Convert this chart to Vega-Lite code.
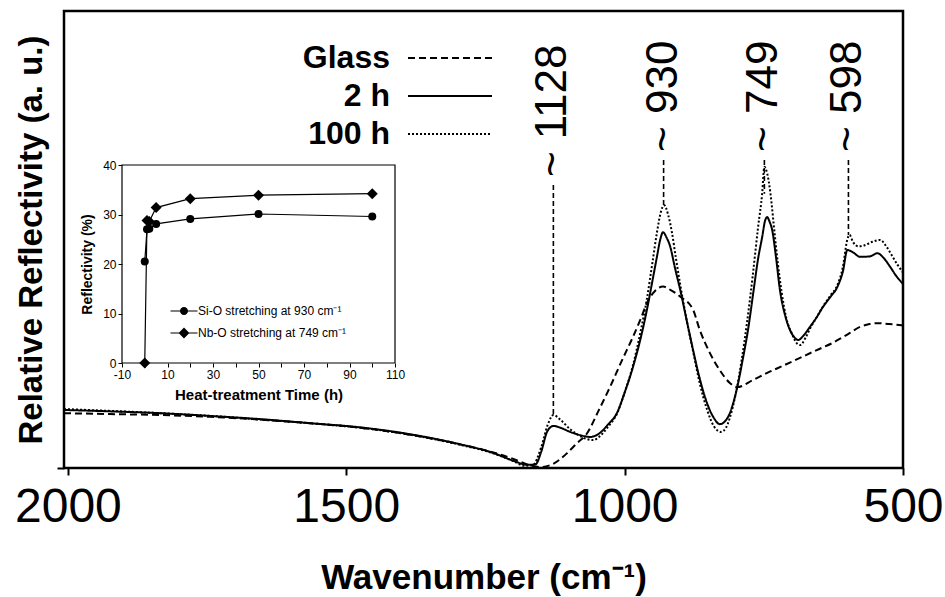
{
  "$schema": "https://vega.github.io/schema/vega-lite/v6.json",
  "autosize": {"type": "none"},
  "padding": {"left": 64, "top": 11, "right": 42, "bottom": 129},
  "width": 839,
  "height": 457,
  "background": "white",
  "config": {
    "font": "Liberation Sans",
    "view": {"stroke": "black", "strokeWidth": 2.5},
    "axis": {"labelColor": "black", "titleColor": "black", "grid": false, "domain": false}
  },
  "datasets": {
    "spectra": [
      {"s": "Glass", "wn": 2007, "v": 12.0}, {"s": "Glass", "wn": 1925, "v": 11.8}, {"s": "Glass", "wn": 1835, "v": 11.6},
      {"s": "Glass", "wn": 1745, "v": 11.2}, {"s": "Glass", "wn": 1655, "v": 10.6}, {"s": "Glass", "wn": 1565, "v": 9.8},
      {"s": "Glass", "wn": 1475, "v": 8.8}, {"s": "Glass", "wn": 1386, "v": 7.3}, {"s": "Glass", "wn": 1296, "v": 5.2},
      {"s": "Glass", "wn": 1236, "v": 3.4}, {"s": "Glass", "wn": 1200, "v": 2.0}, {"s": "Glass", "wn": 1175, "v": 0.8},
      {"s": "Glass", "wn": 1152, "v": 0.2}, {"s": "Glass", "wn": 1130, "v": 0.8}, {"s": "Glass", "wn": 1115, "v": 2.0},
      {"s": "Glass", "wn": 1103, "v": 3.3}, {"s": "Glass", "wn": 1085, "v": 5.5}, {"s": "Glass", "wn": 1068, "v": 7.5},
      {"s": "Glass", "wn": 1047, "v": 12.5}, {"s": "Glass", "wn": 1026, "v": 17.8}, {"s": "Glass", "wn": 1005, "v": 23.5},
      {"s": "Glass", "wn": 985, "v": 28.7}, {"s": "Glass", "wn": 970, "v": 33.0}, {"s": "Glass", "wn": 960, "v": 36.1},
      {"s": "Glass", "wn": 945, "v": 38.8}, {"s": "Glass", "wn": 931, "v": 39.7}, {"s": "Glass", "wn": 918, "v": 39.0},
      {"s": "Glass", "wn": 900, "v": 37.5}, {"s": "Glass", "wn": 877, "v": 34.6}, {"s": "Glass", "wn": 865, "v": 30.2},
      {"s": "Glass", "wn": 847, "v": 25.2}, {"s": "Glass", "wn": 829, "v": 21.4}, {"s": "Glass", "wn": 811, "v": 18.6},
      {"s": "Glass", "wn": 798, "v": 17.7}, {"s": "Glass", "wn": 770, "v": 19.2}, {"s": "Glass", "wn": 744, "v": 20.8},
      {"s": "Glass", "wn": 715, "v": 22.4}, {"s": "Glass", "wn": 685, "v": 24.1}, {"s": "Glass", "wn": 655, "v": 25.8},
      {"s": "Glass", "wn": 626, "v": 27.4}, {"s": "Glass", "wn": 600, "v": 29.2}, {"s": "Glass", "wn": 577, "v": 30.9},
      {"s": "Glass", "wn": 560, "v": 31.5}, {"s": "Glass", "wn": 546, "v": 31.7}, {"s": "Glass", "wn": 525, "v": 31.5},
      {"s": "Glass", "wn": 500, "v": 31.2},

      {"s": "2 h", "wn": 2007, "v": 12.7}, {"s": "2 h", "wn": 1925, "v": 12.4}, {"s": "2 h", "wn": 1835, "v": 12.0},
      {"s": "2 h", "wn": 1745, "v": 11.4}, {"s": "2 h", "wn": 1655, "v": 10.7}, {"s": "2 h", "wn": 1565, "v": 9.8},
      {"s": "2 h", "wn": 1475, "v": 8.9}, {"s": "2 h", "wn": 1386, "v": 7.4}, {"s": "2 h", "wn": 1296, "v": 5.2},
      {"s": "2 h", "wn": 1236, "v": 3.3}, {"s": "2 h", "wn": 1200, "v": 1.6}, {"s": "2 h", "wn": 1175, "v": 0.7},
      {"s": "2 h", "wn": 1160, "v": 0.8}, {"s": "2 h", "wn": 1150, "v": 3.5}, {"s": "2 h", "wn": 1139, "v": 8.0},
      {"s": "2 h", "wn": 1128, "v": 9.2}, {"s": "2 h", "wn": 1115, "v": 8.8}, {"s": "2 h", "wn": 1098, "v": 7.9},
      {"s": "2 h", "wn": 1080, "v": 7.2}, {"s": "2 h", "wn": 1062, "v": 6.8}, {"s": "2 h", "wn": 1044, "v": 7.7},
      {"s": "2 h", "wn": 1030, "v": 9.5}, {"s": "2 h", "wn": 1014, "v": 12.0}, {"s": "2 h", "wn": 1000, "v": 16.5},
      {"s": "2 h", "wn": 985, "v": 22.1}, {"s": "2 h", "wn": 972, "v": 28.0}, {"s": "2 h", "wn": 960, "v": 34.6},
      {"s": "2 h", "wn": 950, "v": 41.0}, {"s": "2 h", "wn": 942, "v": 46.2}, {"s": "2 h", "wn": 936, "v": 50.0},
      {"s": "2 h", "wn": 931, "v": 51.6}, {"s": "2 h", "wn": 925, "v": 50.5}, {"s": "2 h", "wn": 918, "v": 48.4},
      {"s": "2 h", "wn": 910, "v": 44.0}, {"s": "2 h", "wn": 900, "v": 38.9}, {"s": "2 h", "wn": 888, "v": 32.0},
      {"s": "2 h", "wn": 877, "v": 25.8}, {"s": "2 h", "wn": 865, "v": 19.5}, {"s": "2 h", "wn": 852, "v": 14.2},
      {"s": "2 h", "wn": 840, "v": 11.0}, {"s": "2 h", "wn": 829, "v": 9.6}, {"s": "2 h", "wn": 820, "v": 10.2},
      {"s": "2 h", "wn": 811, "v": 12.0}, {"s": "2 h", "wn": 800, "v": 16.5}, {"s": "2 h", "wn": 787, "v": 24.3},
      {"s": "2 h", "wn": 778, "v": 30.5}, {"s": "2 h", "wn": 769, "v": 38.3}, {"s": "2 h", "wn": 760, "v": 46.0},
      {"s": "2 h", "wn": 753, "v": 50.5}, {"s": "2 h", "wn": 748, "v": 54.0}, {"s": "2 h", "wn": 744, "v": 54.9},
      {"s": "2 h", "wn": 740, "v": 54.0}, {"s": "2 h", "wn": 735, "v": 52.1}, {"s": "2 h", "wn": 728, "v": 46.0},
      {"s": "2 h", "wn": 721, "v": 38.9}, {"s": "2 h", "wn": 712, "v": 33.5}, {"s": "2 h", "wn": 703, "v": 30.2},
      {"s": "2 h", "wn": 695, "v": 28.6}, {"s": "2 h", "wn": 688, "v": 28.0}, {"s": "2 h", "wn": 680, "v": 28.8},
      {"s": "2 h", "wn": 667, "v": 30.9}, {"s": "2 h", "wn": 655, "v": 33.0}, {"s": "2 h", "wn": 644, "v": 35.2},
      {"s": "2 h", "wn": 630, "v": 37.5}, {"s": "2 h", "wn": 618, "v": 39.6}, {"s": "2 h", "wn": 608, "v": 43.0},
      {"s": "2 h", "wn": 600, "v": 47.7}, {"s": "2 h", "wn": 590, "v": 47.2}, {"s": "2 h", "wn": 577, "v": 46.2},
      {"s": "2 h", "wn": 560, "v": 46.3}, {"s": "2 h", "wn": 546, "v": 47.0}, {"s": "2 h", "wn": 535, "v": 46.0},
      {"s": "2 h", "wn": 523, "v": 44.0}, {"s": "2 h", "wn": 512, "v": 42.0}, {"s": "2 h", "wn": 500, "v": 40.3},

      {"s": "100 h", "wn": 2007, "v": 12.9}, {"s": "100 h", "wn": 1925, "v": 12.5}, {"s": "100 h", "wn": 1835, "v": 12.0},
      {"s": "100 h", "wn": 1745, "v": 11.4}, {"s": "100 h", "wn": 1655, "v": 10.6}, {"s": "100 h", "wn": 1565, "v": 9.8},
      {"s": "100 h", "wn": 1475, "v": 8.8}, {"s": "100 h", "wn": 1386, "v": 7.3}, {"s": "100 h", "wn": 1296, "v": 5.1},
      {"s": "100 h", "wn": 1236, "v": 3.2}, {"s": "100 h", "wn": 1200, "v": 1.5}, {"s": "100 h", "wn": 1180, "v": 0.5},
      {"s": "100 h", "wn": 1165, "v": 0.6}, {"s": "100 h", "wn": 1150, "v": 4.5}, {"s": "100 h", "wn": 1138, "v": 9.5},
      {"s": "100 h", "wn": 1128, "v": 11.6}, {"s": "100 h", "wn": 1115, "v": 10.5}, {"s": "100 h", "wn": 1098, "v": 8.5},
      {"s": "100 h", "wn": 1080, "v": 7.0}, {"s": "100 h", "wn": 1057, "v": 6.1}, {"s": "100 h", "wn": 1044, "v": 7.0},
      {"s": "100 h", "wn": 1030, "v": 9.0}, {"s": "100 h", "wn": 1014, "v": 11.8}, {"s": "100 h", "wn": 1000, "v": 16.5},
      {"s": "100 h", "wn": 985, "v": 22.5}, {"s": "100 h", "wn": 972, "v": 29.5}, {"s": "100 h", "wn": 960, "v": 37.0},
      {"s": "100 h", "wn": 950, "v": 45.0}, {"s": "100 h", "wn": 942, "v": 51.5}, {"s": "100 h", "wn": 935, "v": 56.0},
      {"s": "100 h", "wn": 929, "v": 57.5}, {"s": "100 h", "wn": 922, "v": 55.5}, {"s": "100 h", "wn": 915, "v": 51.5},
      {"s": "100 h", "wn": 908, "v": 46.0}, {"s": "100 h", "wn": 900, "v": 40.0}, {"s": "100 h", "wn": 888, "v": 32.0},
      {"s": "100 h", "wn": 877, "v": 25.5}, {"s": "100 h", "wn": 865, "v": 18.5}, {"s": "100 h", "wn": 852, "v": 12.8},
      {"s": "100 h", "wn": 840, "v": 9.2}, {"s": "100 h", "wn": 827, "v": 7.9}, {"s": "100 h", "wn": 818, "v": 8.8},
      {"s": "100 h", "wn": 811, "v": 11.0}, {"s": "100 h", "wn": 800, "v": 16.5}, {"s": "100 h", "wn": 790, "v": 23.5},
      {"s": "100 h", "wn": 780, "v": 32.0}, {"s": "100 h", "wn": 770, "v": 42.0}, {"s": "100 h", "wn": 760, "v": 53.0},
      {"s": "100 h", "wn": 753, "v": 60.0}, {"s": "100 h", "wn": 749, "v": 65.9}, {"s": "100 h", "wn": 744, "v": 64.5},
      {"s": "100 h", "wn": 738, "v": 60.0}, {"s": "100 h", "wn": 732, "v": 53.0}, {"s": "100 h", "wn": 725, "v": 45.0},
      {"s": "100 h", "wn": 718, "v": 38.5}, {"s": "100 h", "wn": 710, "v": 33.0}, {"s": "100 h", "wn": 700, "v": 29.5},
      {"s": "100 h", "wn": 690, "v": 27.2}, {"s": "100 h", "wn": 685, "v": 26.9}, {"s": "100 h", "wn": 675, "v": 28.5},
      {"s": "100 h", "wn": 667, "v": 30.5}, {"s": "100 h", "wn": 655, "v": 33.0}, {"s": "100 h", "wn": 644, "v": 35.3},
      {"s": "100 h", "wn": 630, "v": 37.8}, {"s": "100 h", "wn": 618, "v": 40.0}, {"s": "100 h", "wn": 608, "v": 44.0},
      {"s": "100 h", "wn": 600, "v": 50.0}, {"s": "100 h", "wn": 596, "v": 51.0}, {"s": "100 h", "wn": 590, "v": 49.5},
      {"s": "100 h", "wn": 580, "v": 48.5}, {"s": "100 h", "wn": 570, "v": 48.7}, {"s": "100 h", "wn": 555, "v": 49.5},
      {"s": "100 h", "wn": 541, "v": 49.9}, {"s": "100 h", "wn": 530, "v": 48.5}, {"s": "100 h", "wn": 520, "v": 46.5},
      {"s": "100 h", "wn": 510, "v": 44.5}, {"s": "100 h", "wn": 500, "v": 42.8}
    ],
    "peaks": [
      {"wn": 1128, "top": 61.9, "bottom": 11.6, "label": "~ 1128"},
      {"wn": 930, "top": 67.4, "bottom": 57.5, "label": "~ 930"},
      {"wn": 749, "top": 67.4, "bottom": 60.0, "label": "~ 749"},
      {"wn": 598, "top": 67.4, "bottom": 51.0, "label": "~ 598"}
    ],
    "inset": [
      {"s": "Si-O stretching at 930 cm⁻¹", "t": 0, "r": 20.5},
      {"s": "Si-O stretching at 930 cm⁻¹", "t": 1, "r": 27.0},
      {"s": "Si-O stretching at 930 cm⁻¹", "t": 2, "r": 27.1},
      {"s": "Si-O stretching at 930 cm⁻¹", "t": 5, "r": 28.1},
      {"s": "Si-O stretching at 930 cm⁻¹", "t": 20, "r": 29.1},
      {"s": "Si-O stretching at 930 cm⁻¹", "t": 50, "r": 30.1},
      {"s": "Si-O stretching at 930 cm⁻¹", "t": 100, "r": 29.6},
      {"s": "Nb-O stretching at 749 cm⁻¹", "t": 0, "r": 0.0},
      {"s": "Nb-O stretching at 749 cm⁻¹", "t": 1, "r": 28.8},
      {"s": "Nb-O stretching at 749 cm⁻¹", "t": 2, "r": 28.6},
      {"s": "Nb-O stretching at 749 cm⁻¹", "t": 5, "r": 31.4},
      {"s": "Nb-O stretching at 749 cm⁻¹", "t": 20, "r": 33.2},
      {"s": "Nb-O stretching at 749 cm⁻¹", "t": 50, "r": 33.9},
      {"s": "Nb-O stretching at 749 cm⁻¹", "t": 100, "r": 34.2}
    ]
  },
  "layer": [
    {
      "layer": [
        {
          "data": {"name": "spectra"},
          "mark": {"type": "line", "color": "black", "strokeWidth": 2, "interpolate": "monotone"},
          "encoding": {
            "x": {
              "field": "wn", "type": "quantitative",
              "scale": {"domain": [500, 2007], "reverse": true, "nice": false, "zero": false},
              "axis": {
                "orient": "bottom", "values": [2000, 1500, 1000, 500], "format": "d",
                "labelFontSize": 48, "labelFlush": false, "labelPadding": 8,
                "tickSize": 7, "tickWidth": 2, "tickColor": "black",
                "title": "Wavenumber (cm⁻¹)", "titleFontSize": 35, "titleFontWeight": "bold", "titlePadding": 29
              }
            },
            "y": {
              "field": "v", "type": "quantitative",
              "scale": {"domain": [0, 100], "nice": false, "zero": false},
              "axis": {
                "orient": "left", "values": [0], "labels": false,
                "tickSize": 7, "tickWidth": 2, "tickColor": "black",
                "title": "Relative Reflectivity (a. u.)", "titleFontSize": 33, "titleFontWeight": "bold", "titlePadding": 8
              }
            },
            "strokeDash": {
              "field": "s", "type": "nominal",
              "scale": {"domain": ["Glass", "2 h", "100 h"], "range": [[7, 4], [1, 0], [2, 2]]},
              "legend": {
                "orient": "none", "legendX": 370, "legendY": 31, "title": null, "padding": 0,
                "symbolType": "M-3,0H3", "symbolSize": 784, "symbolStrokeWidth": 2, "symbolStrokeColor": "black",
                "labelFontSize": 32, "labelFontWeight": "bold", "labelColor": "black",
                "labelAlign": "right", "labelOffset": -76, "labelLimit": 0, "rowPadding": 6
              }
            }
          }
        },
        {
          "data": {"name": "peaks"},
          "mark": {"type": "rule", "color": "black", "strokeWidth": 1.6, "strokeDash": [5, 3]},
          "encoding": {
            "x": {"field": "wn", "type": "quantitative"},
            "y": {"field": "top", "type": "quantitative"},
            "y2": {"field": "bottom"}
          }
        },
        {
          "data": {"name": "peaks"},
          "mark": {"type": "text", "angle": 270, "align": "left", "baseline": "middle", "dx": 8, "fontSize": 44, "color": "black"},
          "encoding": {
            "x": {"field": "wn", "type": "quantitative"},
            "y": {"field": "top", "type": "quantitative"},
            "text": {"field": "label"}
          }
        }
      ]
    },
    {
      "layer": [
        {
          "data": {"values": [{}]},
          "mark": {"type": "rect", "filled": false, "stroke": "black", "strokeWidth": 1.2},
          "encoding": {
            "x": {"datum": -10, "type": "quantitative"},
            "x2": {"datum": 110},
            "y": {"datum": 0, "type": "quantitative"},
            "y2": {"datum": 40}
          }
        },
        {
          "data": {"name": "inset"},
          "mark": {"type": "line", "color": "black", "strokeWidth": 1.2},
          "encoding": {
            "x": {
              "field": "t", "type": "quantitative",
              "scale": {"domain": [-10, 110], "range": [58, 331], "nice": false, "zero": false},
              "axis": {
                "orient": "bottom", "offset": -105,
                "values": [-10, 0, 10, 20, 30, 40, 50, 60, 70, 80, 90, 100, 110],
                "labelExpr": "(datum.value + 10) % 20 === 0 ? replace(datum.label, '−', '-') : ''",
                "labelFontSize": 12, "labelFlush": false, "labelPadding": 2,
                "tickSize": 4, "tickColor": "black",
                "title": "Heat-treatment Time (h)", "titleFontSize": 15, "titleFontWeight": "bold", "titlePadding": 7
              }
            },
            "y": {
              "field": "r", "type": "quantitative",
              "scale": {"domain": [0, 40], "range": [352, 154], "nice": false, "zero": false},
              "axis": {
                "orient": "left", "offset": -58, "values": [0, 10, 20, 30, 40],
                "labelFontSize": 12, "labelPadding": 2, "tickSize": 4, "tickColor": "black",
                "title": "Reflectivity (%)", "titleFontSize": 14, "titleFontWeight": "bold", "titlePadding": 8
              }
            },
            "detail": {"field": "s"}
          }
        },
        {
          "data": {"name": "inset"},
          "transform": [{"filter": "indexof(datum.s, 'Si-O') === 0"}],
          "mark": {"type": "point", "shape": "circle", "filled": true, "color": "black", "opacity": 1, "size": 64},
          "encoding": {
            "x": {"field": "t", "type": "quantitative"},
            "y": {"field": "r", "type": "quantitative"}
          }
        },
        {
          "data": {"name": "inset"},
          "transform": [{"filter": "indexof(datum.s, 'Nb-O') === 0"}],
          "mark": {"type": "point", "shape": "diamond", "filled": true, "color": "black", "opacity": 1, "size": 121},
          "encoding": {
            "x": {"field": "t", "type": "quantitative"},
            "y": {"field": "r", "type": "quantitative"}
          }
        },
        {
          "data": {"name": "inset"},
          "mark": {"type": "point", "filled": true, "color": "black", "opacity": 0, "size": 81},
          "encoding": {
            "x": {"field": "t", "type": "quantitative"},
            "y": {"field": "r", "type": "quantitative"},
            "shape": {
              "field": "s", "type": "nominal",
              "scale": {
                "domain": ["Si-O stretching at 930 cm⁻¹", "Nb-O stretching at 749 cm⁻¹"],
                "range": [
                  "M-3,-0.13H-0.8V0.13H-3Z M0.8,-0.13H3V0.13H0.8Z M0.9,0A0.9,0.9,0,1,1,-0.9,0A0.9,0.9,0,1,1,0.9,0Z",
                  "M-3,-0.13H-1V0.13H-3Z M1,-0.13H3V0.13H1Z M0,-1.2L1.2,0L0,1.2L-1.2,0Z"
                ]
              },
              "legend": {
                "orient": "none", "legendX": 114, "legendY": 294, "title": null, "padding": 0,
                "symbolSize": 81, "symbolOpacity": 1, "symbolFillColor": "black", "symbolStrokeColor": "black", "symbolStrokeWidth": 1,
                "labelFontSize": 12, "labelColor": "black", "labelLimit": 0, "rowPadding": 7, "labelOffset": 8
              }
            }
          }
        }
      ]
    }
  ],
  "resolve": {
    "scale": {"x": "independent", "y": "independent"},
    "axis": {"x": "independent", "y": "independent"}
  }
}
